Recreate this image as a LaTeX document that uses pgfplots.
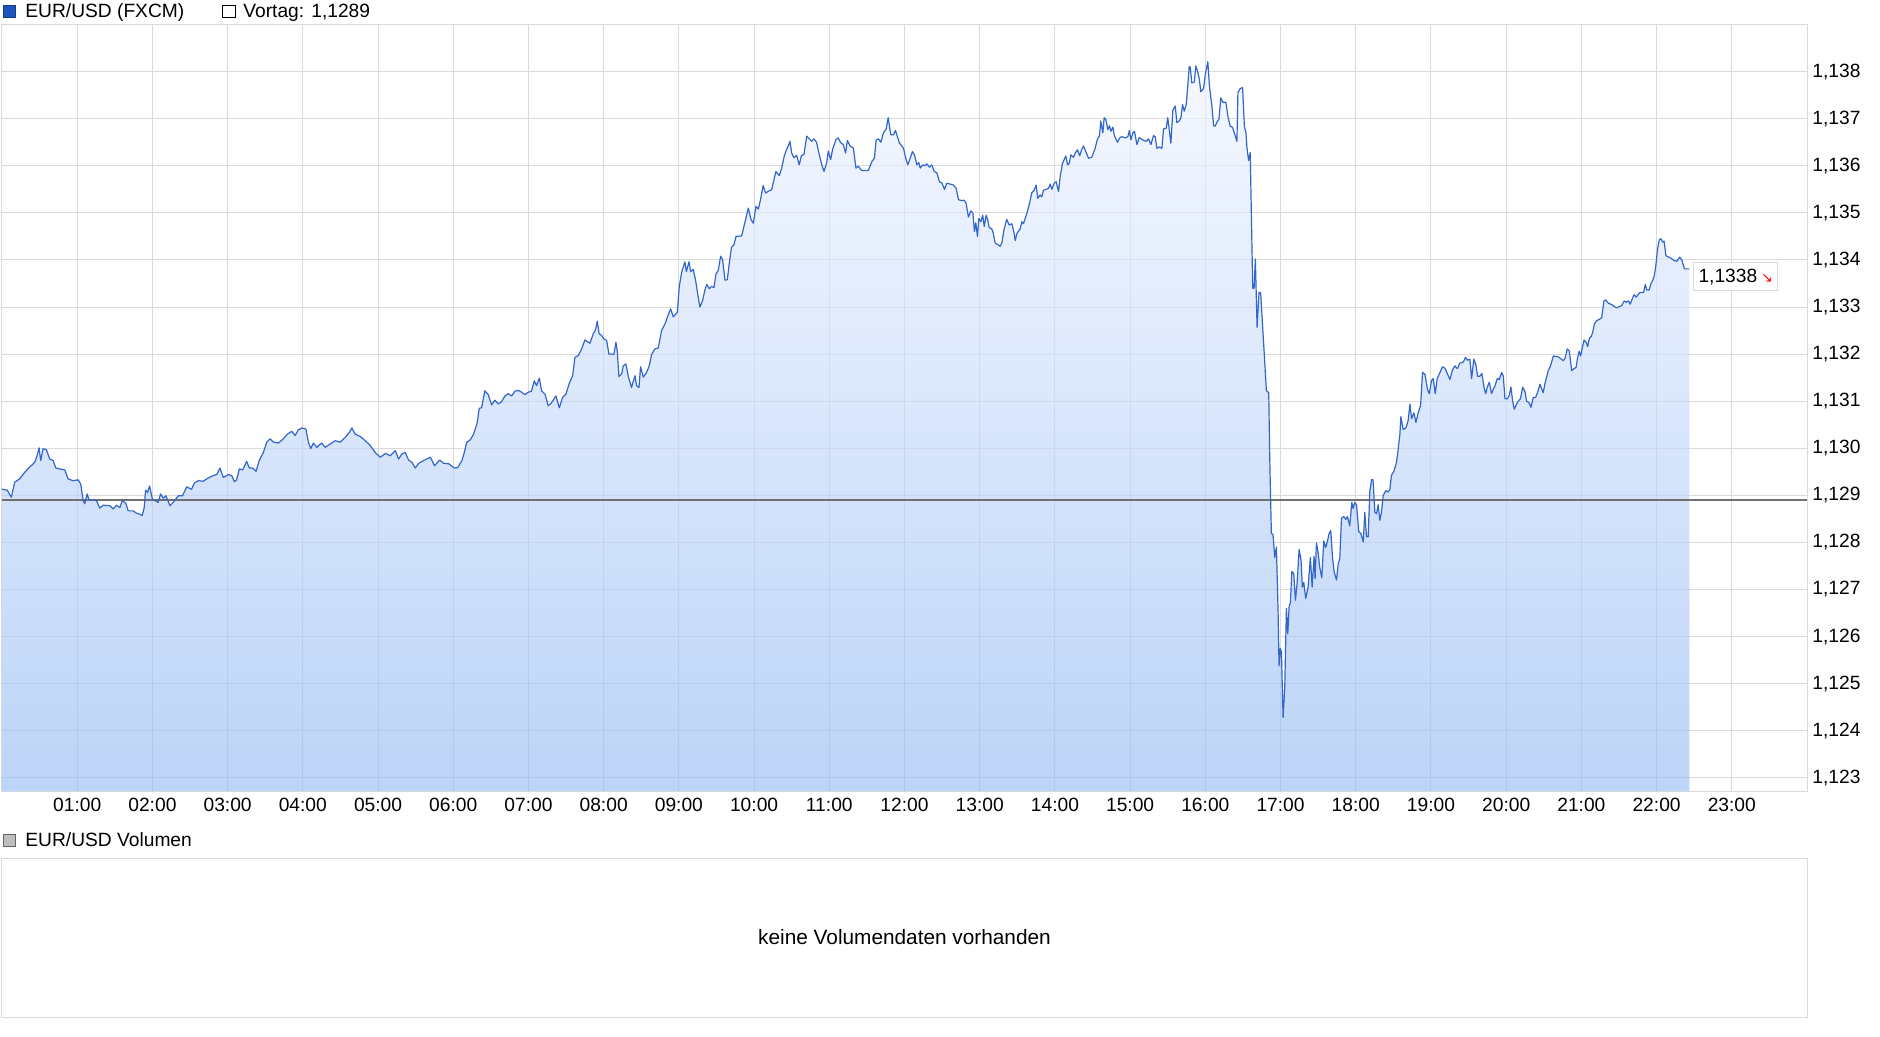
\documentclass[border=0pt]{standalone}
\usepackage{fontspec}
\setmainfont{Liberation Sans}
\newfontfamily\symfont{DejaVu Sans}
\usepackage{pgfplots}
\usepackage{pgfplotstable}
\pgfplotsset{compat=1.18}

\definecolor{gridgray}{RGB}{218,218,218}
\definecolor{lineblue}{RGB}{51,102,204}
\definecolor{filltop}{RGB}{240,244,255}
\definecolor{fillbot}{RGB}{152,189,244}
\definecolor{vortag}{RGB}{112,112,112}
\definecolor{legblue}{RGB}{28,84,192}

% EUR/USD intraday, hour of day vs. price
\pgfplotstableread[row sep=\\]{
h v\\
0.000 1.12913\\ 0.070 1.12911\\ 0.124 1.12896\\ 0.169 1.12928\\ 0.235 1.12935\\ 0.302 1.12949\\
0.368 1.12960\\ 0.435 1.12970\\ 0.466 1.12984\\ 0.493 1.13001\\ 0.515 1.12974\\ 0.546 1.12999\\
0.590 1.12997\\ 0.635 1.12977\\ 0.680 1.12974\\ 0.715 1.12958\\ 0.768 1.12956\\ 0.834 1.12954\\
0.879 1.12935\\ 0.945 1.12931\\ 1.012 1.12933\\ 1.047 1.12924\\ 1.079 1.12889\\ 1.100 1.12882\\
1.132 1.12903\\ 1.158 1.12890\\ 1.212 1.12890\\ 1.256 1.12889\\ 1.300 1.12873\\ 1.345 1.12879\\
1.434 1.12878\\ 1.478 1.12871\\ 1.522 1.12879\\ 1.567 1.12874\\ 1.600 1.12889\\ 1.647 1.12883\\
1.678 1.12867\\ 1.744 1.12867\\ 1.789 1.12862\\ 1.833 1.12860\\ 1.864 1.12857\\ 1.891 1.12874\\
1.909 1.12911\\ 1.936 1.12906\\ 1.962 1.12920\\ 2.000 1.12892\\ 2.033 1.12889\\ 2.077 1.12885\\
2.108 1.12903\\ 2.144 1.12894\\ 2.180 1.12899\\ 2.233 1.12878\\ 2.277 1.12885\\ 2.344 1.12899\\
2.400 1.12899\\ 2.455 1.12918\\ 2.520 1.12913\\ 2.557 1.12926\\ 2.610 1.12931\\ 2.676 1.12930\\
2.743 1.12937\\ 2.810 1.12942\\ 2.854 1.12944\\ 2.898 1.12958\\ 2.943 1.12938\\ 3.009 1.12944\\
3.054 1.12942\\ 3.090 1.12929\\ 3.120 1.12933\\ 3.156 1.12956\\ 3.200 1.12954\\ 3.253 1.12972\\
3.290 1.12958\\ 3.333 1.12958\\ 3.378 1.12951\\ 3.420 1.12974\\ 3.475 1.12991\\ 3.520 1.13013\\
3.564 1.13020\\ 3.610 1.13013\\ 3.675 1.13011\\ 3.740 1.13020\\ 3.795 1.13030\\ 3.853 1.13036\\
3.897 1.13027\\ 3.940 1.13039\\ 3.986 1.13043\\ 4.040 1.13041\\ 4.074 1.13013\\ 4.105 1.12999\\
4.140 1.13011\\ 4.186 1.13002\\ 4.250 1.13011\\ 4.297 1.13002\\ 4.363 1.13009\\ 4.430 1.13016\\
4.500 1.13013\\ 4.563 1.13023\\ 4.620 1.13034\\ 4.652 1.13043\\ 4.696 1.13030\\ 4.763 1.13025\\
4.830 1.13016\\ 4.896 1.13006\\ 4.962 1.12991\\ 5.030 1.12981\\ 5.100 1.12989\\ 5.162 1.12984\\
5.230 1.12995\\ 5.273 1.12977\\ 5.317 1.12988\\ 5.362 1.12991\\ 5.406 1.12975\\ 5.450 1.12970\\
5.495 1.12958\\ 5.540 1.12968\\ 5.606 1.12974\\ 5.695 1.12981\\ 5.752 1.12963\\ 5.820 1.12975\\
5.872 1.12968\\ 5.940 1.12967\\ 6.014 1.12958\\ 6.060 1.12959\\ 6.116 1.12974\\ 6.147 1.12991\\
6.180 1.13013\\ 6.227 1.13018\\ 6.270 1.13030\\ 6.316 1.13052\\ 6.346 1.13085\\ 6.377 1.13086\\
6.420 1.13122\\ 6.465 1.13114\\ 6.510 1.13092\\ 6.554 1.13102\\ 6.600 1.13094\\ 6.643 1.13099\\
6.687 1.13111\\ 6.730 1.13116\\ 6.776 1.13111\\ 6.820 1.13121\\ 6.864 1.13123\\ 6.909 1.13119\\
6.953 1.13114\\ 6.997 1.13119\\ 7.040 1.13121\\ 7.077 1.13143\\ 7.108 1.13133\\ 7.144 1.13149\\
7.175 1.13122\\ 7.220 1.13115\\ 7.263 1.13090\\ 7.308 1.13097\\ 7.365 1.13111\\ 7.410 1.13086\\
7.454 1.13108\\ 7.498 1.13115\\ 7.543 1.13138\\ 7.587 1.13154\\ 7.618 1.13193\\ 7.663 1.13197\\
7.707 1.13211\\ 7.750 1.13230\\ 7.817 1.13223\\ 7.862 1.13243\\ 7.893 1.13252\\ 7.915 1.13270\\
7.940 1.13243\\ 7.970 1.13240\\ 8.004 1.13232\\ 8.040 1.13229\\ 8.070 1.13200\\ 8.105 1.13200\\
8.136 1.13199\\ 8.163 1.13225\\ 8.180 1.13207\\ 8.203 1.13152\\ 8.240 1.13158\\ 8.260 1.13175\\
8.296 1.13179\\ 8.330 1.13151\\ 8.370 1.13129\\ 8.416 1.13154\\ 8.438 1.13133\\ 8.470 1.13129\\
8.490 1.13173\\ 8.527 1.13151\\ 8.570 1.13161\\ 8.606 1.13175\\ 8.637 1.13199\\ 8.682 1.13211\\
8.726 1.13213\\ 8.770 1.13250\\ 8.815 1.13264\\ 8.860 1.13284\\ 8.890 1.13296\\ 8.926 1.13279\\
8.980 1.13289\\ 9.005 1.13343\\ 9.036 1.13373\\ 9.080 1.13396\\ 9.100 1.13375\\ 9.134 1.13396\\
9.156 1.13375\\ 9.190 1.13380\\ 9.222 1.13357\\ 9.250 1.13328\\ 9.280 1.13300\\ 9.316 1.13314\\
9.346 1.13336\\ 9.370 1.13348\\ 9.404 1.13339\\ 9.435 1.13344\\ 9.466 1.13341\\ 9.493 1.13370\\
9.524 1.13378\\ 9.555 1.13408\\ 9.582 1.13400\\ 9.613 1.13357\\ 9.644 1.13358\\ 9.670 1.13393\\
9.700 1.13427\\ 9.732 1.13432\\ 9.760 1.13450\\ 9.834 1.13451\\ 9.865 1.13471\\ 9.892 1.13489\\
9.923 1.13510\\ 9.958 1.13486\\ 9.990 1.13478\\ 10.025 1.13514\\ 10.056 1.13508\\ 10.087 1.13529\\
10.120 1.13558\\ 10.153 1.13542\\ 10.190 1.13546\\ 10.233 1.13549\\ 10.264 1.13570\\ 10.290 1.13588\\
10.335 1.13579\\ 10.367 1.13595\\ 10.400 1.13620\\ 10.432 1.13635\\ 10.455 1.13642\\ 10.477 1.13652\\
10.500 1.13627\\ 10.530 1.13617\\ 10.566 1.13622\\ 10.600 1.13602\\ 10.630 1.13622\\ 10.663 1.13624\\
10.700 1.13663\\ 10.734 1.13657\\ 10.765 1.13652\\ 10.796 1.13657\\ 10.830 1.13650\\ 10.866 1.13624\\
10.900 1.13602\\ 10.930 1.13588\\ 10.965 1.13606\\ 10.987 1.13631\\ 11.018 1.13613\\ 11.044 1.13635\\
11.090 1.13656\\ 11.120 1.13659\\ 11.150 1.13649\\ 11.186 1.13645\\ 11.217 1.13627\\ 11.240 1.13654\\
11.276 1.13642\\ 11.320 1.13638\\ 11.355 1.13595\\ 11.386 1.13599\\ 11.430 1.13590\\ 11.520 1.13590\\
11.566 1.13609\\ 11.600 1.13616\\ 11.623 1.13655\\ 11.654 1.13657\\ 11.685 1.13650\\ 11.720 1.13670\\
11.756 1.13678\\ 11.783 1.13702\\ 11.818 1.13666\\ 11.854 1.13666\\ 11.880 1.13675\\ 11.907 1.13661\\
11.934 1.13648\\ 11.965 1.13642\\ 11.987 1.13637\\ 12.010 1.13620\\ 12.044 1.13602\\ 12.075 1.13616\\
12.106 1.13630\\ 12.133 1.13623\\ 12.164 1.13602\\ 12.190 1.13607\\ 12.208 1.13595\\ 12.244 1.13602\\
12.275 1.13600\\ 12.297 1.13604\\ 12.332 1.13597\\ 12.363 1.13602\\ 12.394 1.13588\\ 12.430 1.13585\\
12.465 1.13566\\ 12.496 1.13564\\ 12.532 1.13550\\ 12.563 1.13563\\ 12.607 1.13561\\ 12.650 1.13559\\
12.687 1.13552\\ 12.718 1.13528\\ 12.762 1.13526\\ 12.793 1.13527\\ 12.820 1.13520\\ 12.850 1.13491\\
12.882 1.13504\\ 12.909 1.13500\\ 12.930 1.13460\\ 12.948 1.13479\\ 12.970 1.13450\\ 12.988 1.13488\\
13.015 1.13481\\ 13.040 1.13495\\ 13.060 1.13471\\ 13.086 1.13495\\ 13.108 1.13484\\ 13.126 1.13469\\
13.160 1.13466\\ 13.180 1.13457\\ 13.206 1.13436\\ 13.237 1.13433\\ 13.272 1.13429\\ 13.294 1.13436\\
13.325 1.13466\\ 13.360 1.13486\\ 13.392 1.13474\\ 13.427 1.13477\\ 13.450 1.13463\\ 13.472 1.13441\\
13.494 1.13456\\ 13.538 1.13466\\ 13.560 1.13481\\ 13.582 1.13477\\ 13.627 1.13499\\ 13.662 1.13520\\
13.693 1.13543\\ 13.724 1.13548\\ 13.750 1.13559\\ 13.773 1.13531\\ 13.804 1.13538\\ 13.826 1.13534\\
13.848 1.13548\\ 13.884 1.13550\\ 13.915 1.13552\\ 13.937 1.13561\\ 13.960 1.13550\\ 13.990 1.13563\\
14.017 1.13566\\ 14.048 1.13545\\ 14.070 1.13577\\ 14.100 1.13605\\ 14.123 1.13613\\ 14.145 1.13621\\
14.168 1.13602\\ 14.190 1.13605\\ 14.212 1.13623\\ 14.247 1.13618\\ 14.270 1.13627\\ 14.300 1.13634\\
14.330 1.13621\\ 14.354 1.13634\\ 14.380 1.13642\\ 14.410 1.13630\\ 14.447 1.13616\\ 14.490 1.13618\\
14.535 1.13637\\ 14.566 1.13657\\ 14.593 1.13664\\ 14.610 1.13695\\ 14.637 1.13670\\ 14.655 1.13702\\
14.677 1.13698\\ 14.704 1.13677\\ 14.726 1.13685\\ 14.744 1.13673\\ 14.770 1.13682\\ 14.788 1.13666\\
14.815 1.13655\\ 14.832 1.13650\\ 14.860 1.13659\\ 14.890 1.13662\\ 14.934 1.13659\\ 14.970 1.13662\\
14.990 1.13675\\ 15.010 1.13655\\ 15.036 1.13670\\ 15.058 1.13673\\ 15.090 1.13645\\ 15.120 1.13660\\
15.148 1.13657\\ 15.178 1.13654\\ 15.214 1.13652\\ 15.245 1.13657\\ 15.276 1.13645\\ 15.311 1.13664\\
15.333 1.13662\\ 15.356 1.13637\\ 15.390 1.13640\\ 15.422 1.13637\\ 15.444 1.13678\\ 15.480 1.13680\\
15.500 1.13702\\ 15.520 1.13677\\ 15.542 1.13648\\ 15.568 1.13718\\ 15.600 1.13727\\ 15.621 1.13692\\
15.652 1.13695\\ 15.675 1.13702\\ 15.697 1.13730\\ 15.720 1.13716\\ 15.746 1.13730\\ 15.768 1.13773\\
15.786 1.13811\\ 15.800 1.13809\\ 15.820 1.13776\\ 15.853 1.13778\\ 15.874 1.13812\\ 15.896 1.13801\\
15.920 1.13784\\ 15.940 1.13757\\ 15.976 1.13764\\ 16.000 1.13794\\ 16.033 1.13821\\ 16.055 1.13769\\
16.087 1.13727\\ 16.110 1.13685\\ 16.130 1.13684\\ 16.162 1.13695\\ 16.180 1.13698\\ 16.206 1.13744\\
16.233 1.13735\\ 16.273 1.13735\\ 16.300 1.13705\\ 16.330 1.13684\\ 16.360 1.13682\\ 16.388 1.13668\\
16.420 1.13652\\ 16.433 1.13755\\ 16.464 1.13764\\ 16.495 1.13766\\ 16.520 1.13682\\ 16.540 1.13671\\
16.552 1.13641\\ 16.575 1.13611\\ 16.597 1.13628\\ 16.630 1.13340\\ 16.648 1.13340\\ 16.665 1.13402\\
16.688 1.13257\\ 16.714 1.13331\\ 16.736 1.13330\\ 16.759 1.13266\\ 16.780 1.13210\\ 16.812 1.13122\\
16.843 1.13118\\ 16.856 1.12982\\ 16.878 1.12819\\ 16.900 1.12817\\ 16.923 1.12768\\ 16.945 1.12790\\
16.967 1.12656\\ 16.980 1.12538\\ 16.998 1.12575\\ 17.012 1.12567\\ 17.034 1.12428\\ 17.056 1.12493\\
17.078 1.12660\\ 17.096 1.12606\\ 17.114 1.12664\\ 17.131 1.12672\\ 17.150 1.12738\\ 17.176 1.12734\\
17.198 1.12677\\ 17.220 1.12713\\ 17.247 1.12785\\ 17.273 1.12762\\ 17.290 1.12705\\ 17.309 1.12715\\
17.335 1.12681\\ 17.366 1.12705\\ 17.397 1.12768\\ 17.420 1.12705\\ 17.446 1.12770\\ 17.460 1.12723\\
17.477 1.12799\\ 17.500 1.12778\\ 17.522 1.12746\\ 17.548 1.12725\\ 17.575 1.12803\\ 17.600 1.12789\\
17.624 1.12803\\ 17.646 1.12819\\ 17.668 1.12825\\ 17.690 1.12770\\ 17.712 1.12738\\ 17.744 1.12720\\
17.766 1.12754\\ 17.788 1.12766\\ 17.810 1.12851\\ 17.841 1.12855\\ 17.868 1.12849\\ 17.890 1.12855\\
17.920 1.12835\\ 17.948 1.12885\\ 17.965 1.12872\\ 17.988 1.12885\\ 18.010 1.12880\\ 18.040 1.12823\\
18.067 1.12819\\ 18.100 1.12801\\ 18.120 1.12864\\ 18.143 1.12812\\ 18.165 1.12812\\ 18.187 1.12908\\
18.210 1.12933\\ 18.230 1.12933\\ 18.254 1.12864\\ 18.276 1.12861\\ 18.298 1.12880\\ 18.320 1.12847\\
18.342 1.12864\\ 18.365 1.12900\\ 18.400 1.12910\\ 18.430 1.12907\\ 18.453 1.12912\\ 18.475 1.12943\\
18.507 1.12951\\ 18.542 1.12970\\ 18.564 1.12998\\ 18.587 1.13030\\ 18.600 1.13067\\ 18.630 1.13040\\
18.666 1.13043\\ 18.697 1.13059\\ 18.720 1.13094\\ 18.742 1.13063\\ 18.773 1.13075\\ 18.800 1.13055\\
18.830 1.13075\\ 18.862 1.13091\\ 18.888 1.13161\\ 18.920 1.13157\\ 18.955 1.13124\\ 18.977 1.13116\\
19.008 1.13144\\ 19.030 1.13148\\ 19.057 1.13116\\ 19.083 1.13148\\ 19.120 1.13161\\ 19.154 1.13173\\
19.186 1.13170\\ 19.217 1.13159\\ 19.252 1.13146\\ 19.283 1.13165\\ 19.318 1.13175\\ 19.350 1.13169\\
19.385 1.13181\\ 19.430 1.13183\\ 19.460 1.13193\\ 19.483 1.13187\\ 19.518 1.13189\\ 19.540 1.13148\\
19.570 1.13189\\ 19.598 1.13177\\ 19.620 1.13153\\ 19.650 1.13153\\ 19.677 1.13159\\ 19.705 1.13130\\
19.727 1.13116\\ 19.750 1.13130\\ 19.775 1.13140\\ 19.806 1.13116\\ 19.830 1.13126\\ 19.850 1.13132\\
19.882 1.13148\\ 19.908 1.13146\\ 19.940 1.13161\\ 19.962 1.13153\\ 19.984 1.13105\\ 20.015 1.13105\\
20.040 1.13112\\ 20.064 1.13130\\ 20.086 1.13100\\ 20.108 1.13083\\ 20.130 1.13091\\ 20.160 1.13100\\
20.190 1.13105\\ 20.220 1.13130\\ 20.250 1.13120\\ 20.272 1.13100\\ 20.303 1.13097\\ 20.330 1.13087\\
20.360 1.13108\\ 20.392 1.13108\\ 20.420 1.13120\\ 20.449 1.13136\\ 20.493 1.13118\\ 20.516 1.13138\\
20.560 1.13165\\ 20.590 1.13175\\ 20.627 1.13196\\ 20.693 1.13194\\ 20.760 1.13186\\ 20.782 1.13191\\
20.813 1.13211\\ 20.840 1.13206\\ 20.871 1.13165\\ 20.893 1.13168\\ 20.930 1.13172\\ 20.947 1.13190\\
20.970 1.13206\\ 20.990 1.13196\\ 21.013 1.13214\\ 21.036 1.13230\\ 21.062 1.13225\\ 21.084 1.13216\\
21.107 1.13234\\ 21.130 1.13237\\ 21.150 1.13246\\ 21.173 1.13264\\ 21.204 1.13271\\ 21.240 1.13274\\
21.270 1.13277\\ 21.300 1.13313\\ 21.324 1.13315\\ 21.360 1.13308\\ 21.404 1.13305\\ 21.436 1.13301\\
21.470 1.13298\\ 21.507 1.13301\\ 21.538 1.13303\\ 21.570 1.13313\\ 21.596 1.13310\\ 21.627 1.13313\\
21.650 1.13306\\ 21.670 1.13315\\ 21.700 1.13326\\ 21.730 1.13321\\ 21.760 1.13328\\ 21.782 1.13331\\
21.827 1.13331\\ 21.850 1.13348\\ 21.870 1.13336\\ 21.900 1.13336\\ 21.930 1.13352\\ 21.950 1.13357\\
21.970 1.13367\\ 21.990 1.13388\\ 22.013 1.13423\\ 22.036 1.13443\\ 22.058 1.13445\\ 22.080 1.13438\\
22.100 1.13440\\ 22.124 1.13409\\ 22.160 1.13406\\ 22.190 1.13404\\ 22.227 1.13399\\ 22.270 1.13397\\
22.307 1.13406\\ 22.338 1.13399\\ 22.370 1.13381\\ 22.396 1.13381\\ 22.436 1.13381\\
}\pricedata

\newcommand{\chartfont}{\fontsize{9.6}{11.5}\selectfont}

\begin{document}
\begin{tikzpicture}
\useasboundingbox (0,0) rectangle (940pt,-518.5pt);

% top legend
\filldraw[fill=legblue, draw=legblue!70!black, line width=0.4pt] (1.5pt,-2.5pt) rectangle (7.5pt,-8.5pt);
\node[anchor=base west, inner sep=0pt, font=\chartfont] at (12.5pt,-8.6pt) {EUR/USD (FXCM)};
\filldraw[fill=white, draw=black, line width=0.4pt] (111pt,-2.5pt) rectangle (117.5pt,-8.5pt);
\node[anchor=base west, inner sep=0pt, font=\chartfont] at (121.5pt,-8.6pt) {Vortag: 1,1289};

\begin{axis}[
  at={(1pt,-395.5pt)}, anchor=south west,
  scale only axis, width=902.5pt, height=383pt,
  xmin=0, xmax=24, ymin=1.12272, ymax=1.13899,
  xtick={1,...,23},
  xticklabels={01:00,02:00,03:00,04:00,05:00,06:00,07:00,08:00,09:00,10:00,11:00,12:00,
    13:00,14:00,15:00,16:00,17:00,18:00,19:00,20:00,21:00,22:00,23:00},
  ytick={1.123,1.124,1.125,1.126,1.127,1.128,1.129,1.130,1.131,1.132,1.133,1.134,1.135,1.136,1.137,1.138},
  yticklabels={{1,123},{1,124},{1,125},{1,126},{1,127},{1,128},{1,129},{1,130},
    {1,131},{1,132},{1,133},{1,134},{1,135},{1,136},{1,137},{1,138}},
  scaled y ticks=false,
  yticklabel pos=right,
  grid=major,
  major grid style={gridgray, line width=0.5pt},
  axis line style={gridgray, line width=0.5pt},
  major tick length=0pt,
  ticklabel style={font=\chartfont, text=black},
  xticklabel style={anchor=north, inner sep=0pt, yshift=-3.5pt},
  yticklabel style={anchor=west, inner sep=0pt, xshift=2.5pt},
]
\addplot[draw=none, top color=filltop, bottom color=fillbot, fill opacity=0.65] table[x=h, y=v] {\pricedata} \closedcycle;
\addplot[vortag, line width=0.75pt] coordinates {(0,1.1289) (24,1.1289)};
\addplot[lineblue, line width=0.6pt, line join=round] table[x=h, y=v] {\pricedata};
\end{axis}

% last price label
\node[anchor=west, draw=gridgray, fill=white, line width=0.5pt, inner xsep=2.5pt, inner ysep=0pt,
  minimum height=14pt, font=\chartfont] at (846.5pt,-138.5pt)
  {1,1338\hspace{2pt}{\symfont\fontsize{7}{7}\selectfont\textcolor{red}{↘}}};

% volume section
\filldraw[fill=black!25, draw=black!60, line width=0.4pt] (1.5pt,-417pt) rectangle (7.5pt,-423pt);
\node[anchor=base west, inner sep=0pt, font=\chartfont] at (12.5pt,-423.2pt) {EUR/USD Volumen};

\begin{axis}[
  at={(1pt,-508.5pt)}, anchor=south west,
  scale only axis, width=902.5pt, height=79.5pt,
  xmin=0, xmax=1, ymin=0, ymax=1,
  ticks=none,
  axis line style={gridgray, line width=0.5pt},
]
\node[font=\fontsize{10.4}{12}\selectfont] at (axis cs:0.5,0.5) {keine Volumendaten vorhanden};
\end{axis}
\end{tikzpicture}
\end{document}
